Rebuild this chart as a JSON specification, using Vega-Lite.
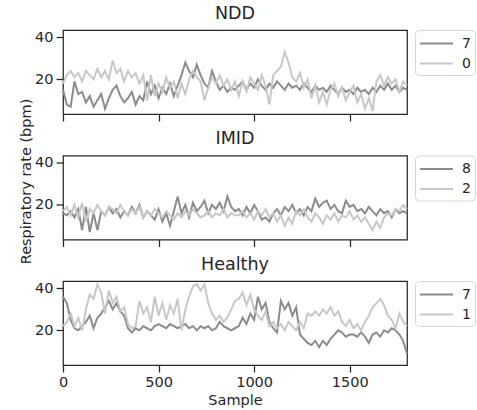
{
"$schema": "https://vega.github.io/schema/vega-lite/v6.json",
"padding": {"left": 17, "top": 4, "right": 0, "bottom": 0},
"config": {
  "font": "DejaVu Sans",
  "view": {"stroke": "#262626", "strokeWidth": 1.25},
  "axis": {"grid": false, "domain": false, "tickColor": "#262626", "tickSize": 7, "tickWidth": 1.25, "labelColor": "#262626", "labelFontSize": 14.5, "labelPadding": 3, "labelFlush": false, "titleFontSize": 14.5, "titleColor": "#262626", "titleFontWeight": "normal", "format": "d"},
  "title": {"fontSize": 17.5, "fontWeight": "normal", "color": "#262626", "offset": 7},
  "legend": {"title": null, "orient": "none", "legendX": 352, "legendY": 0, "symbolType": "M-2,0L2,0", "symbolSize": 272, "symbolOffset": 8, "symbolStrokeWidth": 2, "labelFontSize": 14, "labelColor": "#262626", "strokeColor": "#d6d6d6", "cornerRadius": 4, "padding": 4, "rowPadding": 3, "labelOffset": 16, "fillColor": "white"}
},
"datasets": {
"ndd": [
{"x":0,"7":15,"0":18},{"x":20,"7":8,"0":22},{"x":40,"7":7,"0":24},{"x":60,"7":19,"0":21},{"x":80,"7":13,"0":23},{"x":100,"7":14,"0":19},{"x":120,"7":9,"0":24},{"x":140,"7":12,"0":22},{"x":160,"7":7,"0":20},{"x":180,"7":10,"0":25},{"x":200,"7":13,"0":21},{"x":220,"7":6,"0":24},{"x":240,"7":11,"0":20},{"x":260,"7":15,"0":29},{"x":280,"7":17,"0":23},{"x":300,"7":12,"0":25},{"x":320,"7":9,"0":19},{"x":340,"7":11,"0":24},{"x":360,"7":14,"0":21},{"x":380,"7":8,"0":23},{"x":400,"7":12,"0":18},{"x":420,"7":10,"0":22},{"x":440,"7":19,"0":10},{"x":460,"7":13,"0":22},{"x":480,"7":17,"0":12},{"x":500,"7":11,"0":18},{"x":520,"7":16,"0":14},{"x":540,"7":13,"0":21},{"x":560,"7":18,"0":16},{"x":580,"7":12,"0":19},{"x":600,"7":17,"0":11},{"x":620,"7":22,"0":18},{"x":640,"7":28,"0":13},{"x":660,"7":24,"0":20},{"x":680,"7":21,"0":24},{"x":700,"7":27,"0":21},{"x":720,"7":22,"0":19},{"x":740,"7":18,"0":10},{"x":760,"7":16,"0":16},{"x":780,"7":24,"0":21},{"x":800,"7":19,"0":18},{"x":820,"7":15,"0":22},{"x":840,"7":17,"0":17},{"x":860,"7":14,"0":20},{"x":880,"7":16,"0":15},{"x":900,"7":15,"0":19},{"x":920,"7":17,"0":12},{"x":940,"7":19,"0":19},{"x":960,"7":15,"0":14},{"x":980,"7":18,"0":21},{"x":1000,"7":16,"0":18},{"x":1020,"7":20,"0":15},{"x":1040,"7":17,"0":22},{"x":1060,"7":15,"0":17},{"x":1080,"7":18,"0":8},{"x":1100,"7":16,"0":22},{"x":1120,"7":19,"0":24},{"x":1140,"7":17,"0":26},{"x":1160,"7":15,"0":33},{"x":1180,"7":18,"0":28},{"x":1200,"7":16,"0":21},{"x":1220,"7":17,"0":19},{"x":1240,"7":15,"0":23},{"x":1260,"7":18,"0":16},{"x":1280,"7":16,"0":20},{"x":1300,"7":14,"0":11},{"x":1320,"7":17,"0":17},{"x":1340,"7":15,"0":9},{"x":1360,"7":16,"0":14},{"x":1380,"7":14,"0":8},{"x":1400,"7":17,"0":15},{"x":1420,"7":15,"0":18},{"x":1440,"7":13,"0":12},{"x":1460,"7":16,"0":16},{"x":1480,"7":14,"0":10},{"x":1500,"7":15,"0":14},{"x":1520,"7":13,"0":17},{"x":1540,"7":16,"0":9},{"x":1560,"7":14,"0":13},{"x":1580,"7":15,"0":6},{"x":1600,"7":13,"0":11},{"x":1620,"7":16,"0":5},{"x":1640,"7":14,"0":19},{"x":1660,"7":17,"0":22},{"x":1680,"7":15,"0":17},{"x":1700,"7":18,"0":21},{"x":1720,"7":15,"0":18},{"x":1740,"7":17,"0":20},{"x":1760,"7":14,"0":14},{"x":1780,"7":16,"0":19},{"x":1800,"7":15,"0":17}
],
"imid": [
{"x":0,"8":16,"2":17},{"x":20,"8":15,"2":19},{"x":40,"8":17,"2":15},{"x":60,"8":14,"2":20},{"x":80,"8":18,"2":14},{"x":100,"8":8,"2":21},{"x":120,"8":19,"2":12},{"x":140,"8":7,"2":18},{"x":160,"8":16,"2":16},{"x":180,"8":8,"2":20},{"x":200,"8":17,"2":17},{"x":220,"8":15,"2":15},{"x":240,"8":19,"2":19},{"x":260,"8":16,"2":18},{"x":280,"8":18,"2":16},{"x":300,"8":14,"2":20},{"x":320,"8":17,"2":17},{"x":340,"8":15,"2":15},{"x":360,"8":19,"2":18},{"x":380,"8":16,"2":16},{"x":400,"8":20,"2":19},{"x":420,"8":14,"2":14},{"x":440,"8":17,"2":17},{"x":460,"8":15,"2":15},{"x":480,"8":13,"2":18},{"x":500,"8":18,"2":16},{"x":520,"8":12,"2":14},{"x":540,"8":16,"2":17},{"x":560,"8":10,"2":15},{"x":580,"8":17,"2":13},{"x":600,"8":24,"2":16},{"x":620,"8":16,"2":14},{"x":640,"8":20,"2":17},{"x":660,"8":14,"2":15},{"x":680,"8":21,"2":18},{"x":700,"8":17,"2":16},{"x":720,"8":19,"2":14},{"x":740,"8":22,"2":15},{"x":760,"8":16,"2":17},{"x":780,"8":20,"2":14},{"x":800,"8":18,"2":16},{"x":820,"8":21,"2":15},{"x":840,"8":17,"2":18},{"x":860,"8":24,"2":14},{"x":880,"8":19,"2":16},{"x":900,"8":17,"2":15},{"x":920,"8":18,"2":15},{"x":940,"8":15,"2":17},{"x":960,"8":19,"2":14},{"x":980,"8":16,"2":16},{"x":1000,"8":20,"2":13},{"x":1020,"8":17,"2":17},{"x":1040,"8":13,"2":15},{"x":1060,"8":14,"2":18},{"x":1080,"8":12,"2":14},{"x":1100,"8":16,"2":16},{"x":1120,"8":18,"2":12},{"x":1140,"8":15,"2":15},{"x":1160,"8":19,"2":10},{"x":1180,"8":17,"2":14},{"x":1200,"8":20,"2":11},{"x":1220,"8":16,"2":17},{"x":1240,"8":18,"2":15},{"x":1260,"8":15,"2":18},{"x":1280,"8":19,"2":14},{"x":1300,"8":17,"2":12},{"x":1320,"8":23,"2":16},{"x":1340,"8":19,"2":14},{"x":1360,"8":21,"2":11},{"x":1380,"8":22,"2":15},{"x":1400,"8":18,"2":13},{"x":1420,"8":20,"2":16},{"x":1440,"8":17,"2":12},{"x":1460,"8":16,"2":15},{"x":1480,"8":22,"2":14},{"x":1500,"8":19,"2":17},{"x":1520,"8":20,"2":13},{"x":1540,"8":17,"2":15},{"x":1560,"8":18,"2":12},{"x":1580,"8":16,"2":14},{"x":1600,"8":19,"2":11},{"x":1620,"8":17,"2":8},{"x":1640,"8":15,"2":12},{"x":1660,"8":18,"2":9},{"x":1680,"8":16,"2":14},{"x":1700,"8":17,"2":16},{"x":1720,"8":14,"2":15},{"x":1740,"8":18,"2":18},{"x":1760,"8":16,"2":17},{"x":1780,"8":17,"2":20},{"x":1800,"8":16,"2":18}
],
"healthy": [
{"x":0,"7":36,"1":22},{"x":20,"7":33,"1":24},{"x":40,"7":25,"1":28},{"x":60,"7":21,"1":22},{"x":80,"7":20,"1":26},{"x":100,"7":22,"1":20},{"x":120,"7":24,"1":30},{"x":140,"7":27,"1":37},{"x":160,"7":21,"1":35},{"x":180,"7":26,"1":42},{"x":200,"7":28,"1":38},{"x":220,"7":31,"1":28},{"x":240,"7":34,"1":39},{"x":260,"7":30,"1":33},{"x":280,"7":33,"1":36},{"x":300,"7":29,"1":29},{"x":320,"7":27,"1":31},{"x":340,"7":21,"1":23},{"x":360,"7":19,"1":21},{"x":380,"7":21,"1":22},{"x":400,"7":20,"1":34},{"x":420,"7":22,"1":28},{"x":440,"7":21,"1":31},{"x":460,"7":20,"1":24},{"x":480,"7":22,"1":36},{"x":500,"7":23,"1":27},{"x":520,"7":22,"1":33},{"x":540,"7":21,"1":25},{"x":560,"7":23,"1":32},{"x":580,"7":22,"1":28},{"x":600,"7":21,"1":35},{"x":620,"7":22,"1":20},{"x":640,"7":23,"1":30},{"x":660,"7":21,"1":36},{"x":680,"7":22,"1":41},{"x":700,"7":20,"1":42},{"x":720,"7":22,"1":39},{"x":740,"7":21,"1":42},{"x":760,"7":22,"1":33},{"x":780,"7":20,"1":28},{"x":800,"7":21,"1":25},{"x":820,"7":24,"1":27},{"x":840,"7":22,"1":24},{"x":860,"7":21,"1":26},{"x":880,"7":20,"1":30},{"x":900,"7":21,"1":34},{"x":920,"7":22,"1":35},{"x":940,"7":26,"1":38},{"x":960,"7":23,"1":32},{"x":980,"7":28,"1":37},{"x":1000,"7":25,"1":30},{"x":1020,"7":36,"1":27},{"x":1040,"7":30,"1":25},{"x":1060,"7":33,"1":29},{"x":1080,"7":24,"1":22},{"x":1100,"7":21,"1":24},{"x":1120,"7":19,"1":21},{"x":1140,"7":34,"1":23},{"x":1160,"7":30,"1":20},{"x":1180,"7":33,"1":24},{"x":1200,"7":27,"1":22},{"x":1220,"7":31,"1":20},{"x":1240,"7":18,"1":24},{"x":1260,"7":16,"1":21},{"x":1280,"7":14,"1":28},{"x":1300,"7":13,"1":27},{"x":1320,"7":15,"1":29},{"x":1340,"7":12,"1":27},{"x":1360,"7":15,"1":30},{"x":1380,"7":13,"1":28},{"x":1400,"7":16,"1":31},{"x":1420,"7":18,"1":27},{"x":1440,"7":20,"1":29},{"x":1460,"7":19,"1":24},{"x":1480,"7":17,"1":22},{"x":1500,"7":18,"1":25},{"x":1520,"7":18,"1":21},{"x":1540,"7":17,"1":23},{"x":1560,"7":19,"1":20},{"x":1580,"7":17,"1":24},{"x":1600,"7":14,"1":27},{"x":1620,"7":18,"1":31},{"x":1640,"7":19,"1":33},{"x":1660,"7":17,"1":35},{"x":1680,"7":20,"1":32},{"x":1700,"7":19,"1":27},{"x":1720,"7":21,"1":25},{"x":1740,"7":20,"1":21},{"x":1760,"7":18,"1":28},{"x":1780,"7":15,"1":24},{"x":1800,"7":9,"1":22}
]
},
"bounds": "flush",
"spacing": 41.5,
"resolve": {"scale": {"color": "independent"}, "legend": {"color": "independent"}},
"vconcat": [
{
  "title": "NDD",
  "width": 344, "height": 84,
  "data": {"name": "ndd"},
  "transform": [{"fold": ["7", "0"], "as": ["subject", "rr"]}],
  "mark": {"type": "line", "strokeWidth": 2},
  "encoding": {
    "x": {"field": "x", "type": "quantitative", "scale": {"domain": [0, 1800], "nice": false}, "axis": {"values": [0, 500, 1000, 1500], "labels": false, "title": null}},
    "y": {"field": "rr", "type": "quantitative", "scale": {"domain": [3.5, 43.5], "nice": false, "zero": false}, "axis": {"values": [20, 40], "title": "Respiratory rate (bpm)", "titleX": -30, "titleY": 151, "titleAnchor": "middle"}},
    "color": {"field": "subject", "type": "nominal", "scale": {"domain": ["7", "0"], "range": ["#8c8c8c", "#c8c8c8"]}}
  }
},
{
  "title": "IMID",
  "width": 344, "height": 84,
  "data": {"name": "imid"},
  "transform": [{"fold": ["8", "2"], "as": ["subject", "rr"]}],
  "mark": {"type": "line", "strokeWidth": 2},
  "encoding": {
    "x": {"field": "x", "type": "quantitative", "scale": {"domain": [0, 1800], "nice": false}, "axis": {"values": [0, 500, 1000, 1500], "labels": false, "title": null}},
    "y": {"field": "rr", "type": "quantitative", "scale": {"domain": [3.5, 43.5], "nice": false, "zero": false}, "axis": {"values": [20, 40], "title": null}},
    "color": {"field": "subject", "type": "nominal", "scale": {"domain": ["8", "2"], "range": ["#8c8c8c", "#c8c8c8"]}}
  }
},
{
  "title": "Healthy",
  "width": 344, "height": 84,
  "data": {"name": "healthy"},
  "transform": [{"fold": ["7", "1"], "as": ["subject", "rr"]}],
  "mark": {"type": "line", "strokeWidth": 2},
  "encoding": {
    "x": {"field": "x", "type": "quantitative", "scale": {"domain": [0, 1800], "nice": false}, "axis": {"values": [0, 500, 1000, 1500], "title": "Sample", "titlePadding": 5}},
    "y": {"field": "rr", "type": "quantitative", "scale": {"domain": [3.5, 43.5], "nice": false, "zero": false}, "axis": {"values": [20, 40], "title": null}},
    "color": {"field": "subject", "type": "nominal", "scale": {"domain": ["7", "1"], "range": ["#8c8c8c", "#c8c8c8"]}}
  }
}
]
}
